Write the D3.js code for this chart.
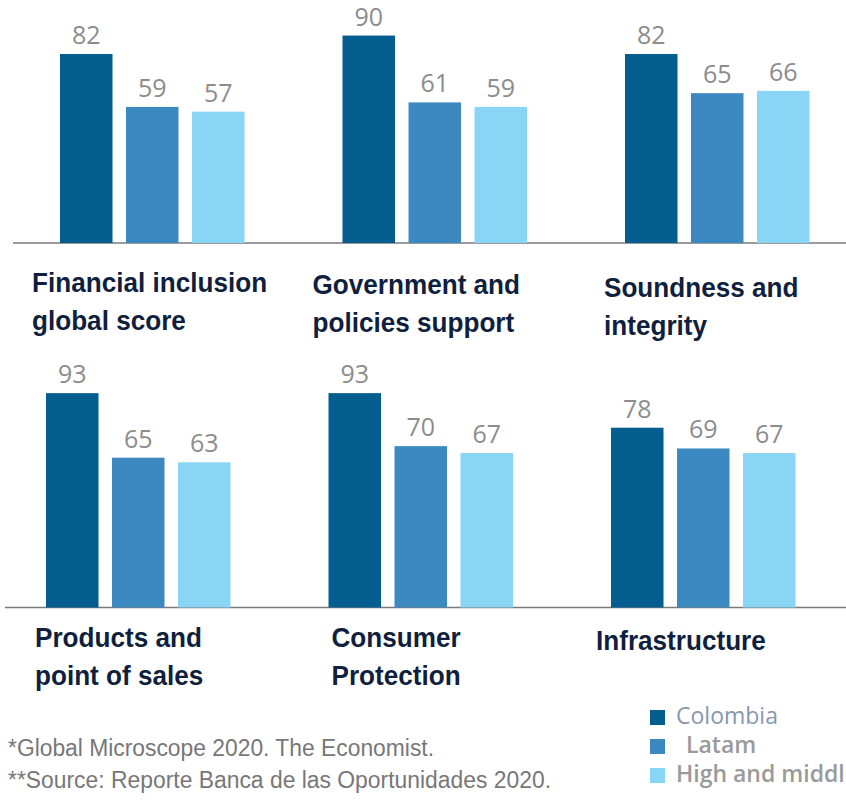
<!DOCTYPE html>
<html>
<head>
<meta charset="utf-8">
<script src="https://cdn.jsdelivr.net/npm/d3@7"></script>
<style>
  body { margin: 0; background: #fff; }
  svg { display: block; }
</style>
</head>
<body>
<div id="chart"></div>
<script>
var svgWidth = 846;
var svgHeight = 801;

// data
var categories = [
  ["Financial inclusion", "global score"],
  ["Government and", "policies support"],
  ["Soundness and", "integrity"],
  ["Products and", "point of sales"],
  ["Consumer", "Protection"],
  ["Infrastructure"]
];
var series = ["Colombia", "Latam", "High and middle income"];
var colombia = [82, 90, 82, 93, 93, 78];
var latam = [59, 61, 65, 65, 70, 69];
var highMiddle = [57, 59, 66, 63, 67, 67];
var footnotes = [
  "*Global Microscope 2020. The Economist.",
  "**Source: Reporte Banca de las Oportunidades 2020."
];

var colors = ["#035d8f", "#3c89c2", "#88d5f6"];

// layout (not data)
var rowBase = [243, 607.5];
var rowShift = [0, -14];
var titleDx = [-28, -30, -21, -11, 3, -15];
var titleY = [292, 294, 297, 647, 647, 650];

var svg = d3.select("#chart")
  .append("svg")
  .attr("width", svgWidth)
  .attr("height", svgHeight);

var xPanel = d3.scaleBand()
  .domain([0, 1, 2])
  .range([60, 60 + 3 * 282.5]);

var xSeries = d3.scaleBand()
  .domain(series)
  .range([0, 184.5])
  .paddingInner(0.2045)
  .paddingOuter(0);

var yHeight = d3.scaleLinear()
  .domain([0, 100])
  .range([0, 230.5]);

var values = [colombia, latam, highMiddle];

var panels = categories.map(function(c, i) {
  return {
    title: c,
    row: Math.floor(i / 3),
    col: i % 3,
    idx: i,
    bars: series.map(function(s, j) { return { s: s, j: j, v: values[j][i] }; })
  };
});

// baselines
rowBase.forEach(function(b, r) {
  svg.append("line")
    .attr("x1", r === 0 ? 13 : 5)
    .attr("x2", svgWidth)
    .attr("y1", b)
    .attr("y2", b)
    .attr("stroke", "#7a7a7a")
    .attr("stroke-width", 1.5);
});

var panelGroup = svg.selectAll(".panel")
  .data(panels)
  .enter()
  .append("g")
  .attr("class", "panel")
  .attr("transform", d => `translate(${xPanel(d.col) + rowShift[d.row]}, ${rowBase[d.row]})`);

panelGroup.selectAll("rect")
  .data(d => d.bars)
  .enter()
  .append("rect")
  .attr("x", d => xSeries(d.s))
  .attr("y", d => -yHeight(d.v))
  .attr("width", xSeries.bandwidth())
  .attr("height", d => yHeight(d.v))
  .attr("fill", d => colors[d.j]);

panelGroup.selectAll(".val")
  .data(d => d.bars)
  .enter()
  .append("text")
  .attr("class", "val")
  .attr("x", d => xSeries(d.s) + xSeries.bandwidth() / 2)
  .attr("y", d => -yHeight(d.v) - 10)
  .attr("text-anchor", "middle")
  .attr("font-family", "'Open Sans', sans-serif")
  .attr("font-size", 25)
  .attr("fill", "#8c8c8c")
  .text(d => d.v);

// category titles (slightly narrow, like the original)
panelGroup.each(function(d) {
  var t = d3.select(this).append("g")
    .attr("transform", `translate(${titleDx[d.idx]}, ${titleY[d.idx] - rowBase[d.row]}) scale(0.95, 1)`)
    .append("text")
    .attr("font-family", "'Liberation Sans', Arial, sans-serif")
    .attr("font-weight", "bold")
    .attr("font-size", 27.5)
    .attr("fill", "#0f1f3d");
  d.title.forEach(function(line, k) {
    t.append("tspan")
      .attr("x", 0)
      .attr("y", k * 38)
      .text(line);
  });
});

// legend (last label runs off the right edge, as in the original)
var legend = svg.append("g")
  .attr("transform", "translate(650, 710)");

var legendItem = legend.selectAll("g")
  .data(series)
  .enter()
  .append("g")
  .attr("transform", (d, i) => `translate(0, ${i * 29})`);

legendItem.append("rect")
  .attr("width", 15)
  .attr("height", 15)
  .attr("fill", (d, i) => colors[i]);

legendItem.append("text")
  .attr("x", (d, i) => i === 1 ? 36 : 26)
  .attr("y", 14)
  .attr("font-family", "'Open Sans', sans-serif")
  .attr("font-size", 23)
  .attr("font-weight", (d, i) => i === 0 ? 400 : 600)
  .attr("fill", (d, i) => i === 0 ? "#8797ad" : "#9a9a9a")
  .text(d => d);

// footnotes
svg.selectAll(".foot")
  .data(footnotes)
  .enter()
  .append("text")
  .attr("class", "foot")
  .attr("x", 8)
  .attr("y", (d, i) => 756 + i * 32)
  .attr("font-family", "'Liberation Sans', Arial, sans-serif")
  .attr("font-size", 23)
  .attr("fill", "#777777")
  .attr("textLength", (d, i) => i === 0 ? 426 : 543)
  .attr("lengthAdjust", "spacingAndGlyphs")
  .text(d => d);
</script>
</body>
</html>
